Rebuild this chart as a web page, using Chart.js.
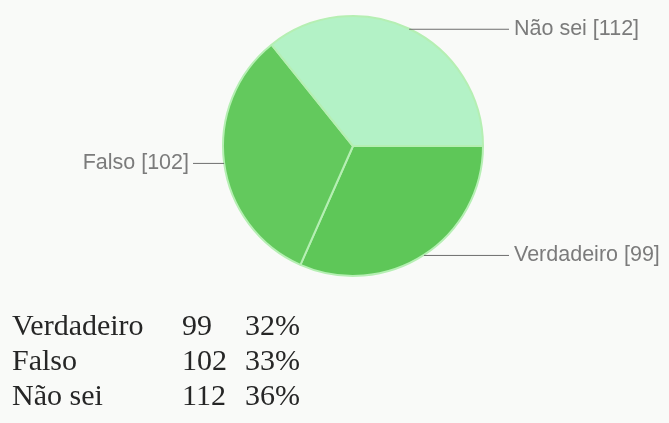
<!DOCTYPE html>
<html>
<head>
<meta charset="utf-8">
<script src="https://cdn.jsdelivr.net/npm/chart.js@4"></script>
<style>
  html, body { margin: 0; padding: 0; background: #f9faf8; }
  #wrap { position: relative; width: 669px; height: 423px; }
  #pie { position: absolute; left: 0; top: 0; }
  .cell { position: absolute; font-family: "Liberation Serif", "Times New Roman", serif;
          font-size: 30px; color: #262626; line-height: 30px; white-space: nowrap; }
</style>
</head>
<body>
<div id="wrap">
  <canvas id="pie" width="669" height="423"></canvas>
  <div id="tabela"></div>
</div>
<script>
// respostas
var categorias = ["Verdadeiro", "Falso", "Não sei"];
var respostas = [99, 102, 112];
var cores = ["#5ec758", "#63c95d", "#b3f2c6"];

var total = respostas.reduce(function (a, b) { return a + b; }, 0);

// rótulos com linha de chamada fora da pizza
var rotulosFora = {
  id: "rotulosFora",
  afterDatasetsDraw: function (chart) {
    var ctx = chart.ctx;
    var meta = chart.getDatasetMeta(0);
    ctx.save();
    ctx.font = "21.5px 'Liberation Sans', Arial, sans-serif";
    ctx.fillStyle = "#7b7b7b";
    ctx.strokeStyle = "#6e6e6e";
    ctx.lineWidth = 1;
    ctx.textBaseline = "middle";
    meta.data.forEach(function (arc, i) {
      var meio = (arc.startAngle + arc.endAngle) / 2;
      var r = arc.outerRadius;
      var px = arc.x + Math.cos(meio) * r;
      var py = arc.y + Math.sin(meio) * r;
      var texto = categorias[i] + " [" + respostas[i] + "]";
      var direita = Math.cos(meio) >= 0;
      var fim = direita ? arc.x + r + 26 : arc.x - r - 30;
      ctx.beginPath();
      ctx.moveTo(px, py + 0.5);
      ctx.lineTo(fim, py + 0.5);
      ctx.stroke();
      ctx.textAlign = direita ? "left" : "right";
      ctx.fillText(texto, direita ? fim + 5 : fim - 4, py);
    });
    ctx.restore();
  }
};

new Chart(document.getElementById("pie"), {
  type: "pie",
  data: {
    labels: categorias,
    datasets: [{
      data: respostas,
      backgroundColor: cores,
      borderColor: "#b5efb3",
      borderWidth: 2
    }]
  },
  options: {
    responsive: false,
    animation: false,
    rotation: 90,
    layout: { padding: { left: 222, right: 185, top: 15, bottom: 146 } },
    plugins: { legend: { display: false }, tooltip: { enabled: false } }
  },
  plugins: [rotulosFora]
});

// tabela de contagens abaixo do gráfico
var tabela = document.getElementById("tabela");
var colunas = [12, 182, 245];
categorias.forEach(function (nome, i) {
  var topo = 310 + i * 35;
  var valores = [nome, String(respostas[i]), Math.round(respostas[i] / total * 100) + "%"];
  valores.forEach(function (v, j) {
    var d = document.createElement("div");
    d.className = "cell";
    d.style.left = colunas[j] + "px";
    d.style.top = topo + "px";
    d.textContent = v;
    tabela.appendChild(d);
  });
});
</script>
</body>
</html>
